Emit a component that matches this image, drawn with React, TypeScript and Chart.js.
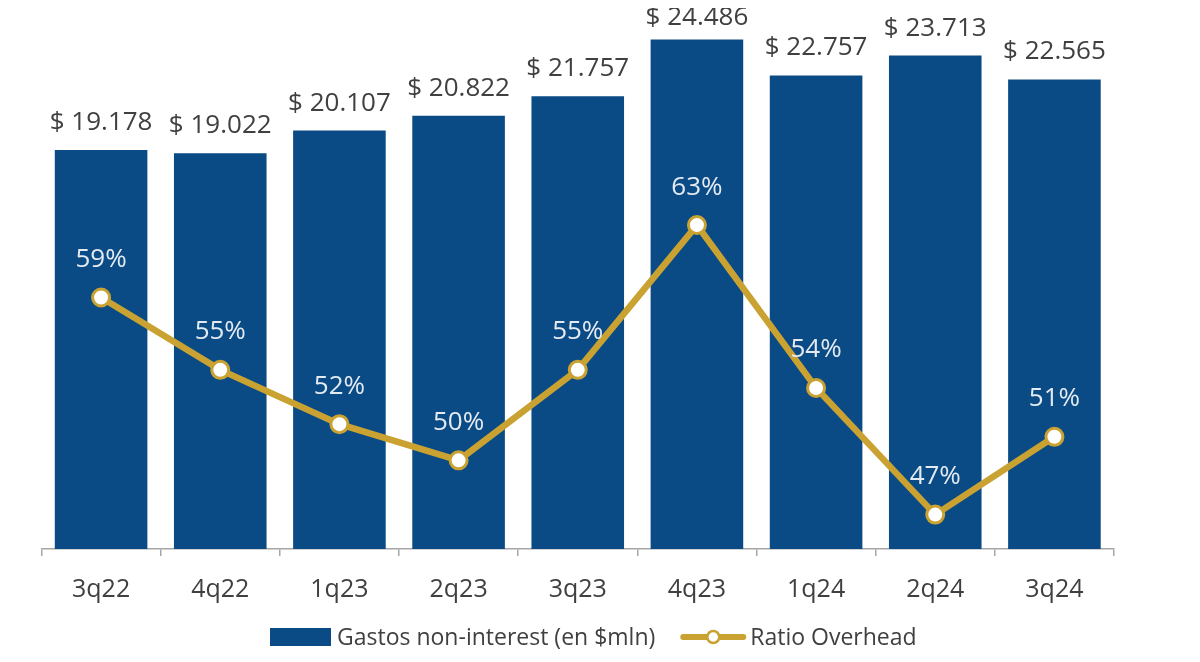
import React, { useEffect, useRef } from "react";
import { Chart, registerables } from "chart.js";

Chart.register(...registerables);

const categories = ["3q22", "4q22", "1q23", "2q23", "3q23", "4q23", "1q24", "2q24", "3q24"];
const gastos = [19178, 19022, 20107, 20822, 21757, 24486, 22757, 23713, 22565];
const ratio = [59, 55, 52, 50, 55, 63, 54, 47, 51.3];
const barLabel = "Gastos non-interest (en $mln)";
const lineLabel = "Ratio Overhead";

const BLUE = "#0a4a85";
const GOLD = "#c9a232";
const TEXT = "#404040";
const FONT = "'Open Sans', 'Noto Sans', sans-serif";

function fmtMoney(v: number): string {
  const s = Math.round(v).toString();
  return "$ " + s.replace(/\B(?=(\d{3})+(?!\d))/g, ".");
}

const labelsPlugin = {
  id: "customLabels",
  afterDatasetsDraw(chart: any) {
    const ctx = chart.ctx;
    ctx.save();
    const barMeta = chart.getDatasetMeta(0);
    ctx.font = `26px ${FONT}`;
    ctx.fillStyle = TEXT;
    ctx.textAlign = "center";
    ctx.textBaseline = "alphabetic";
    barMeta.data.forEach((el: any, i: number) => {
      let y = el.y - 20;
      if (y < 17) y = 17;
      ctx.fillText(fmtMoney(gastos[i]), el.x, y);
    });
    const lineMeta = chart.getDatasetMeta(1);
    ctx.fillStyle = "#e4eaf1";
    lineMeta.data.forEach((el: any, i: number) => {
      ctx.fillText(Math.round(ratio[i]) + "%", el.x, el.y - 30.5);
    });
    ctx.restore();
  },
  afterDraw(chart: any) {
    const ctx = chart.ctx;
    ctx.save();
    ctx.font = `23px ${FONT}`;
    ctx.textBaseline = "alphabetic";
    ctx.textAlign = "left";
    const cy = 629;
    let x = 262;
    ctx.fillStyle = BLUE;
    ctx.fillRect(x, cy - 9, 61, 18);
    x += 61 + 6;
    ctx.fillStyle = TEXT;
    ctx.fillText(barLabel, x, cy + 8);
    x += ctx.measureText(barLabel).width + 25;
    ctx.strokeStyle = GOLD;
    ctx.lineWidth = 6;
    ctx.lineCap = "round";
    ctx.beginPath();
    ctx.moveTo(x + 3, cy);
    ctx.lineTo(x + 63, cy);
    ctx.stroke();
    ctx.beginPath();
    ctx.arc(x + 33, cy, 6, 0, Math.PI * 2);
    ctx.fillStyle = "#ffffff";
    ctx.fill();
    ctx.lineWidth = 2.5;
    ctx.stroke();
    x += 66 + 4;
    ctx.fillStyle = TEXT;
    ctx.fillText(lineLabel, x, cy + 8);
    ctx.restore();
  },
};

export default function App() {
  const ref = useRef<HTMLCanvasElement | null>(null);
  useEffect(() => {
    if (!ref.current) return;
    const chart = new Chart(ref.current, {
      type: "bar",
      data: {
        labels: categories,
        datasets: [
          {
            type: "bar",
            label: barLabel,
            data: gastos,
            backgroundColor: BLUE,
            barPercentage: 0.777,
            categoryPercentage: 1,
            yAxisID: "y",
            order: 1,
          },
          {
            type: "line",
            label: lineLabel,
            data: ratio,
            borderColor: GOLD,
            borderWidth: 6.5,
            pointRadius: 8.5,
            pointBorderWidth: 3,
            pointBackgroundColor: "#ffffff",
            pointBorderColor: GOLD,
            tension: 0,
            clip: false,
            yAxisID: "y1",
            order: 0,
          } as any,
        ],
      },
      options: {
        animation: false,
        responsive: true,
        maintainAspectRatio: false,
        layout: { autoPadding: false, padding: { left: 33.5, right: 78, top: 0, bottom: 30 } },
        plugins: {
          legend: { display: false },
          tooltip: { enabled: false },
        },
        scales: {
          x: {
            offset: true,
            grid: {
              display: true,
              drawOnChartArea: false,
              drawTicks: true,
              tickLength: 7,
              color: "#a6a6a6",
              lineWidth: 1.5,
              offset: true,
            },
            border: { display: true, color: "#a6a6a6", width: 1.5 },
            ticks: { color: TEXT, font: { family: FONT, size: 25 }, padding: 19 },
          },
          y: { display: false, min: 0, max: 26000 },
          y1: { display: false, min: 45.1, max: 75 },
        },
      },
      plugins: [labelsPlugin],
    } as any);
    return () => chart.destroy();
  }, []);
  return (
    <div style={{ position: "relative", height: 646 }}>
      <canvas ref={ref} />
    </div>
  );
}
